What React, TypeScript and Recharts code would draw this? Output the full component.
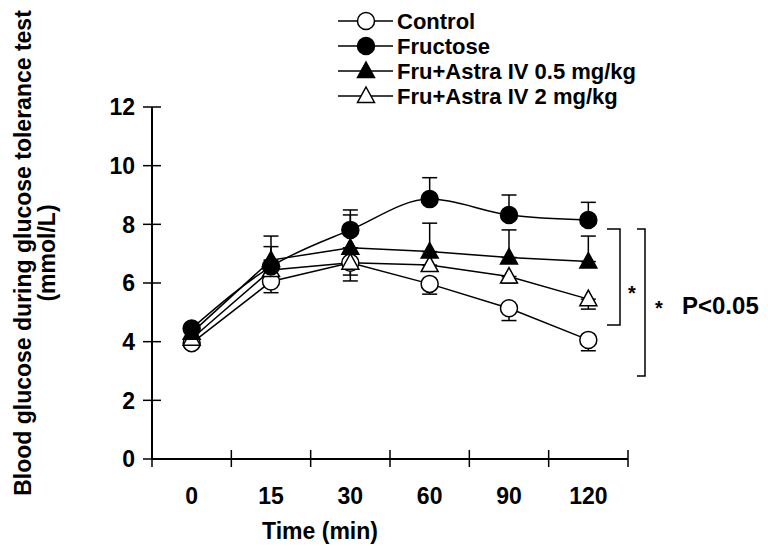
import React from "react";
import { LineChart, Line, XAxis, YAxis, ErrorBar } from "recharts";

const FONT = "'Liberation Sans', Arial, Helvetica, sans-serif";

// sampling times (min)
const times = ["0", "15", "30", "60", "90", "120"];

// blood glucose (mmol/L)
const control = [3.95, 6.05, 6.69, 5.97, 5.14, 4.06];
const controlErr = [0.15, 0.38, 0.62, 0.35, 0.42, 0.37];
const fructose = [4.45, 6.56, 7.81, 8.86, 8.32, 8.15];
const fructoseErr = [0.15, 1.04, 0.68, 0.73, 0.68, 0.6];
const astra05 = [4.3, 6.78, 7.2, 7.07, 6.87, 6.73];
const astra05Err = [0.15, 0.46, 1.12, 0.97, 0.94, 0.87];
const astra2 = [4.1, 6.44, 6.69, 6.61, 6.22, 5.45];
const astra2Err = [0.15, 0.2, 0.42, 0.2, 0.22, 0.34];

const yTicks = [0, 2, 4, 6, 8, 10, 12];

const legendItems = [
  { label: "Control", marker: "openCircle" },
  { label: "Fructose", marker: "filledCircle" },
  { label: "Fru+Astra IV 0.5 mg/kg", marker: "filledTriangle" },
  { label: "Fru+Astra IV 2 mg/kg", marker: "openTriangle" },
];

// control / 2 mg/kg bars only go down, fructose / 0.5 mg/kg only go up
const data = times.map((t, i) => ({
  time: t,
  control: control[i],
  controlErr: [controlErr[i], 0],
  fructose: fructose[i],
  fructoseErr: [0, fructoseErr[i]],
  astra05: astra05[i],
  astra05Err: [0, astra05Err[i]],
  astra2: astra2[i],
  astra2Err: [astra2Err[i], 0],
}));

function Marker({ kind, cx, cy }: { kind: string; cx: number; cy: number }) {
  if (kind === "openCircle" || kind === "filledCircle") {
    return (
      <circle
        cx={cx}
        cy={cy}
        r={8.5}
        fill={kind === "openCircle" ? "#fff" : "#000"}
        stroke="#000"
        strokeWidth={1.5}
      />
    );
  }
  const d = `M${cx},${cy - 9} L${cx + 8.5},${cy + 6.5} L${cx - 8.5},${cy + 6.5} Z`;
  return (
    <path
      d={d}
      fill={kind === "openTriangle" ? "#fff" : "#000"}
      stroke="#000"
      strokeWidth={1.5}
      strokeLinejoin="miter"
    />
  );
}

const makeDot = (kind: string) => (props: any) => {
  const { cx, cy, index } = props;
  if (cx == null || cy == null) return <g key={index} />;
  return <Marker key={index} kind={kind} cx={cx} cy={cy} />;
};

function YTick(props: any) {
  const { x, y, payload } = props;
  return (
    <g>
      <line x1={x - 9} x2={x + 9} y1={y} y2={y} stroke="#000" strokeWidth={1.5} />
      <text
        x={x - 17}
        y={y}
        dy="0.36em"
        textAnchor="end"
        fontSize={23}
        fontWeight="bold"
        fontFamily={FONT}
        fill="#000"
      >
        {payload.value}
      </text>
    </g>
  );
}

function XTick(props: any) {
  const { x, y, payload, index, visibleTicksCount, width } = props;
  const half = payload.offset || width / visibleTicksCount / 2;
  return (
    <g>
      <line x1={x - half} x2={x - half} y1={y - 9} y2={y + 8} stroke="#000" strokeWidth={1.5} />
      {index === visibleTicksCount - 1 && (
        <line x1={x + half} x2={x + half} y1={y - 9} y2={y + 8} stroke="#000" strokeWidth={1.5} />
      )}
      <text
        x={x}
        y={y + 45}
        textAnchor="middle"
        fontSize={23}
        fontWeight="bold"
        fontFamily={FONT}
        fill="#000"
      >
        {payload.value}
      </text>
    </g>
  );
}

const textStyle = { fontFamily: FONT, fontWeight: "bold" as const, fill: "#000" };

export default function App() {
  return (
    <div style={{ position: "absolute", left: 0, top: 0, width: 768, height: 546, background: "#fff" }}>
      <LineChart
        width={768}
        height={546}
        data={data}
        margin={{ top: 107, right: 140, bottom: 27, left: 92 }}
        style={{ position: "absolute", left: 0, top: 0 }}
      >
        <XAxis
          dataKey="time"
          type="category"
          scale="band"
          height={60}
          tickSize={0}
          tickMargin={0}
          tickLine={false}
          axisLine={{ stroke: "#000", strokeWidth: 2 }}
          tick={<XTick />}
          interval={0}
        />
        <YAxis
          domain={[0, 12]}
          ticks={yTicks}
          width={60}
          tickSize={0}
          tickMargin={0}
          tickLine={false}
          axisLine={{ stroke: "#000", strokeWidth: 2 }}
          tick={<YTick />}
          interval={0}
        />
        <Line
          dataKey="control"
          type="linear"
          stroke="#000"
          strokeWidth={1.5}
          dot={makeDot("openCircle")}
          isAnimationActive={false}
        >
          <ErrorBar dataKey="controlErr" direction="y" width={7.5} stroke="#000" strokeWidth={1.5} isAnimationActive={false} />
        </Line>
        <Line
          dataKey="astra2"
          type="linear"
          stroke="#000"
          strokeWidth={1.5}
          dot={makeDot("openTriangle")}
          isAnimationActive={false}
        >
          <ErrorBar dataKey="astra2Err" direction="y" width={7.5} stroke="#000" strokeWidth={1.5} isAnimationActive={false} />
        </Line>
        <Line
          dataKey="astra05"
          type="linear"
          stroke="#000"
          strokeWidth={1.5}
          dot={makeDot("filledTriangle")}
          isAnimationActive={false}
        >
          <ErrorBar dataKey="astra05Err" direction="y" width={7.5} stroke="#000" strokeWidth={1.5} isAnimationActive={false} />
        </Line>
        <Line
          dataKey="fructose"
          type="monotone"
          stroke="#000"
          strokeWidth={1.5}
          dot={makeDot("filledCircle")}
          isAnimationActive={false}
        >
          <ErrorBar dataKey="fructoseErr" direction="y" width={7.5} stroke="#000" strokeWidth={1.5} isAnimationActive={false} />
        </Line>
      </LineChart>

      <svg
        width={768}
        height={546}
        style={{ position: "absolute", left: 0, top: 0, pointerEvents: "none" }}
      >
        {/* axis titles */}
        <text
          transform="translate(31,253) rotate(-90)"
          textAnchor="middle"
          fontSize={23}
          {...textStyle}
        >
          Blood glucose during glucose tolerance test
        </text>
        <text
          transform="translate(55,253) rotate(-90)"
          textAnchor="middle"
          fontSize={23}
          {...textStyle}
        >
          (mmol/L)
        </text>
        <text x={320} y={539} textAnchor="middle" fontSize={23} {...textStyle}>
          Time (min)
        </text>

        {/* legend */}
        {legendItems.map((item, i) => {
          const cy = 21 + i * 25;
          return (
            <g key={item.label}>
              <line x1={338} x2={393} y1={cy} y2={cy} stroke="#000" strokeWidth={1.5} />
              <Marker kind={item.marker} cx={366} cy={cy} />
              <text x={397} y={cy + 8} fontSize={22} {...textStyle}>
                {item.label}
              </text>
            </g>
          );
        })}

        {/* significance brackets */}
        <path d="M607,229 H620 V325 H607" fill="none" stroke="#000" strokeWidth={1.5} />
        <text x={632} y={300} textAnchor="middle" fontSize={20} {...textStyle}>
          *
        </text>
        <path d="M637,229 H645 V376 H637" fill="none" stroke="#000" strokeWidth={1.5} />
        <text x={659} y={315} textAnchor="middle" fontSize={20} {...textStyle}>
          *
        </text>
        <text x={682} y={314} fontSize={24} {...textStyle}>
          P&lt;0.05
        </text>
      </svg>
    </div>
  );
}
